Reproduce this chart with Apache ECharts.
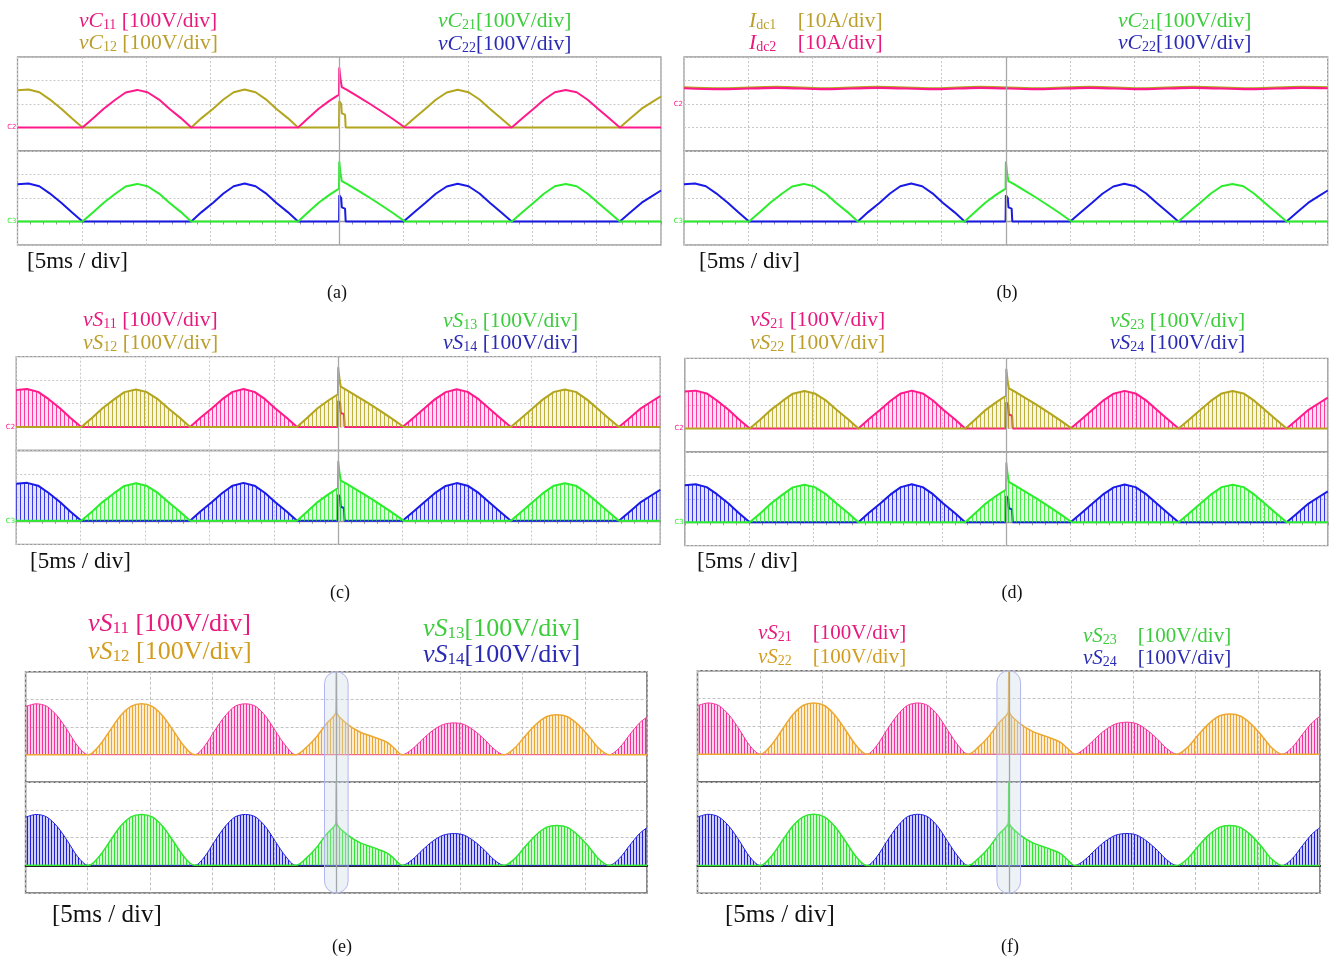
<!DOCTYPE html>
<html>
<head>
<meta charset="utf-8">
<title>Capacitor and switch voltages</title>
<script src="https://cdn.jsdelivr.net/npm/echarts@6.0.0/dist/echarts.min.js"></script>
<style>
  html, body { margin: 0; padding: 0; background: #fff; }
  #main { width: 1334px; height: 962px; }
</style>
</head>
<body>
<div id="main"></div>
<script>
// time axis: 10 div x 5 ms
var timeMin = 0, timeMax = 50, timeDiv = 5;
var faultTime = 25;
var faultWindow = [24.05, 25.95];

// experimental (scope) envelopes, [ms, V]; hump starting before t=0
var expA = [[0,158],[0.85,162],[1.7,150],[2.5,120],[3.4,80],[4.2,40],[5.05,0],[13.5,0],[14.3,40],[15.2,80],[16.0,119],[16.8,150],[17.65,162],[18.5,150],[19.3,120],[20.1,80],[21.0,40],[21.8,0],[24.98,0],[25.0,112],[25.15,100],[25.2,60],[25.45,55],[25.5,0],[30.0,0],[30.85,40],[31.7,80],[32.5,118],[33.35,149],[34.2,161],[35.05,150],[35.9,119],[36.7,80],[37.55,40],[38.4,0],[46.8,0],[47.65,40],[48.5,80],[49.3,108],[50,132]];
// experimental, hump in which the fault occurs
var expB = [[0,0],[5.05,0],[5.9,40],[6.7,80],[7.6,118],[8.4,149],[9.3,160],[10.1,150],[11.0,119],[11.8,80],[12.7,40],[13.5,0],[21.8,0],[22.6,40],[23.4,80],[24.2,112],[24.98,140],[25.0,255],[25.1,205],[25.2,172],[25.6,160],[26.5,130],[27.4,100],[28.3,68],[29.2,35],[30.1,0],[38.4,0],[39.25,40],[40.1,80],[40.9,118],[41.75,150],[42.6,160],[43.45,150],[44.3,118],[45.1,80],[45.95,40],[46.8,0],[50,0]];
// dc currents (A)
var idc1 = [[0,7.05],[3,6.65],[7.2,7.25],[11,6.65],[15,7.25],[19.5,6.65],[23,7.25],[27.5,6.65],[31.5,7.25],[35.5,6.65],[39.5,7.25],[44,6.65],[48,7.25],[50,7.05]];
var idc2 = [[0,6.7],[3,6.3],[7.2,6.9],[11,6.3],[15,6.9],[19.5,6.3],[23,6.9],[27.5,6.3],[31.5,6.9],[35.5,6.3],[39.5,6.9],[44,6.3],[48,6.9],[50,6.7]];
// simulation envelopes (V)
var simA = [[0,174],[0.85,184],[1.7,175],[2.55,140],[3.4,86],[4.2,31],[5.06,0],[13.6,0],[14.4,31],[15.2,86],[16.05,140],[16.85,175],[17.7,184],[18.5,175],[19.3,140],[20.1,86],[20.95,31],[21.75,0],[30.3,0],[31.1,20],[31.9,54],[32.75,87],[33.6,109],[34.5,115],[35.3,109],[36.1,87],[36.95,54],[37.7,20],[38.5,0],[46.95,0],[47.8,26],[48.6,72],[49.4,115],[50,136]];
var simB = [[0,0],[5.06,0],[5.9,31],[6.77,86],[7.62,140],[8.48,175],[9.33,184],[10.18,175],[11.04,140],[11.9,86],[12.75,31],[13.6,0],[21.75,0],[22.6,27],[23.4,64],[24.2,112],[24.97,154],[25.0,300],[25.03,154],[25.85,112],[26.9,82],[28.0,64],[29.07,45],[29.7,22],[30.3,0],[38.5,0],[39.35,24],[40.2,68],[41.05,109],[41.9,137],[42.75,144],[43.6,137],[44.45,109],[45.3,68],[46.1,24],[46.95,0],[50,0]];

var col = {
  mag: '#ff1a8c', oli: '#b3a51e', grn: '#2ced2c', blu: '#1a1ae6',
  sMag: '#f5329c', sOra: '#eca832', sGrn: '#30e630', sBlu: '#2020dc',
  tMag: '#e8197d', tOli: '#bb9e2c', tOra: '#d29c1e', tGrn: '#3ccc3c', tBlu: '#2a2ab4'
};

// vertical hatch used for the PWM pulse trains
function stripes(color, period, alpha, bg) {
  var c = document.createElement('canvas');
  c.width = period; c.height = 4;
  var ctx = c.getContext('2d');
  ctx.fillStyle = color;
  ctx.globalAlpha = bg;
  ctx.fillRect(0, 0, period, 4);
  ctx.globalAlpha = alpha;
  ctx.fillRect(0, 0, 1, 4);
  return { image: c, repeat: 'repeat' };
}

var grids = [], xAxes = [], yAxes = [], series = [];

// one half (top = 0, bottom = 1) of a panel
function half(box, pos, yr, traces, sim, marker) {
  var gi = grids.length;
  var h = box.h / 2;
  grids.push({
    left: box.x, top: box.y + pos * h, width: box.w, height: h,
    show: true, borderColor: sim ? '#666' : '#9a9a9a', borderWidth: sim ? 1.5 : 1.3,
    backgroundColor: 'transparent', outerBoundsMode: 'none', containLabel: false
  });
  xAxes.push({
    gridIndex: gi, type: 'value', min: timeMin, max: timeMax, interval: timeDiv,
    position: pos ? 'top' : 'bottom',
    axisLine: { show: pos === 1, lineStyle: { color: sim ? '#222' : '#999', width: sim ? 2 : 1.3 } },
    axisTick: { show: pos === 1 && !sim, inside: true, length: 3, lineStyle: { color: '#999' } },
    minorTick: { show: pos === 1 && !sim, splitNumber: 5, length: 3, lineStyle: { color: '#999' } },
    axisLabel: { show: false },
    splitLine: { show: true, lineStyle: { color: sim ? '#c2c2c2' : '#c8c8c8', type: sim ? [3, 2] : [2, 2], width: 1 } }
  });
  yAxes.push({
    gridIndex: gi, type: 'value', min: yr[0], max: yr[1], interval: yr[2],
    axisLine: { show: false }, axisTick: { show: false },
    axisLabel: {
      show: !!marker, margin: 1, fontSize: 7, fontFamily: 'DejaVu Sans',
      color: marker ? marker[1] : '#000',
      formatter: function (v) { return v === 0 && marker ? marker[0] : ''; }
    },
    splitLine: { show: true, lineStyle: { color: sim ? '#c2c2c2' : '#c8c8c8', type: sim ? [3, 2] : [2, 2], width: 1 } }
  });
  traces.forEach(function (tr, k) {
    var s = {
      type: 'line', xAxisIndex: gi, yAxisIndex: gi, data: tr.data,
      symbol: 'none', showSymbol: false, animation: false,
      smooth: tr.smooth || false,
      lineStyle: { color: tr.color, width: tr.width || 2 },
      itemStyle: { color: tr.color },
      z: 2 + k
    };
    if (tr.fill) s.areaStyle = { color: stripes(tr.color, tr.fill[0], tr.fill[1], tr.fill[2]), opacity: 1 };
    if (k === 0) {
      s.markLine = {
        silent: true, symbol: ['none', 'none'], label: { show: false },
        lineStyle: { color: sim ? '#8a8a8a' : '#a8a8a8', type: 'solid', width: 1.3 },
        data: [{ xAxis: faultTime }]
      };
    }
    series.push(s);
  });
  return gi;
}

var vR = [-100, 300, 100];
var sp = [4, 0.85, 0.12];  // scope PWM hatch
var ss = [3, 1, 0.22];     // simulation PWM hatch

// (a)
var bA = { x: 17.5, y: 57, w: 643.5, h: 188 };
half(bA, 0, vR, [{ data: expA, color: col.oli }, { data: expB, color: col.mag }], false, ['C2', col.mag]);
half(bA, 1, vR, [{ data: expA, color: col.blu }, { data: expB, color: col.grn }], false, ['C3', col.grn]);
// (b)
var bB = { x: 684, y: 57, w: 643.7, h: 188 };
half(bB, 0, [-20, 20, 10], [{ data: idc1, color: col.oli, smooth: 0.4, width: 2.2 }, { data: idc2, color: col.mag, smooth: 0.4, width: 2.2 }], false, ['C2', col.mag]);
half(bB, 1, vR, [{ data: expA, color: col.blu }, { data: expB, color: col.grn }], false, ['C3', col.grn]);
// (c)
var bC = { x: 16.2, y: 356.7, w: 644, h: 187.6 };
half(bC, 0, vR, [{ data: expA, color: col.mag, fill: sp }, { data: expB, color: col.oli, fill: sp }], false, ['C2', col.mag]);
half(bC, 1, vR, [{ data: expA, color: col.blu, fill: sp }, { data: expB, color: col.grn, fill: sp }], false, ['C3', col.grn]);
// (d)
var bD = { x: 684.8, y: 358.3, w: 643, h: 187.4 };
half(bD, 0, vR, [{ data: expA, color: col.mag, fill: sp }, { data: expB, color: col.oli, fill: sp }], false, ['C2', col.mag]);
half(bD, 1, vR, [{ data: expA, color: col.blu, fill: sp }, { data: expB, color: col.grn, fill: sp }], false, ['C3', col.grn]);
// (e)
var bE = { x: 25.6, y: 671.7, w: 621.4, h: 221.3 };
var eTop = half(bE, 0, vR, [{ data: simA, color: col.sMag, fill: ss, width: 1, smooth: 0.3 }, { data: simB, color: col.sOra, fill: ss, width: 1.5, smooth: 0.3 }], true);
var eBot = half(bE, 1, vR, [{ data: simA, color: col.sBlu, fill: ss, width: 1, smooth: 0.3 }, { data: simB, color: col.sGrn, fill: ss, width: 1.5, smooth: 0.3 }], true);
// (f)
var bF = { x: 697.5, y: 670.7, w: 622.5, h: 222.6 };
var fTop = half(bF, 0, vR, [{ data: simA, color: col.sMag, fill: ss, width: 1, smooth: 0.3 }, { data: simB, color: col.sOra, fill: ss, width: 1.5, smooth: 0.3 }], true);
var fBot = half(bF, 1, vR, [{ data: simA, color: col.sBlu, fill: ss, width: 1, smooth: 0.3 }, { data: simB, color: col.sGrn, fill: ss, width: 1.5, smooth: 0.3 }], true);

var chart = echarts.init(document.getElementById('main'));
chart.setOption({
  animation: false,
  backgroundColor: '#fff',
  grid: grids, xAxis: xAxes, yAxis: yAxes, series: series
});

// texts
var serif = 'Liberation Serif';
function sigLabel(x, y, sym, sub, unit, color, size) {
  return {
    type: 'text', x: x, y: y, z: 50,
    style: {
      text: '{i|' + sym + '}{s|' + sub + '}{n|' + unit + '}',
      fill: color, verticalAlign: 'middle', align: 'left',
      rich: {
        i: { fontFamily: serif, fontStyle: 'italic', fontSize: size, fill: color, lineHeight: size * 1.15, verticalAlign: 'bottom' },
        s: { fontFamily: serif, fontSize: Math.round(size * 0.66), fill: color, lineHeight: size * 0.7, verticalAlign: 'bottom' },
        n: { fontFamily: serif, fontSize: size, fill: color, lineHeight: size * 1.15, verticalAlign: 'bottom' }
      }
    }
  };
}
function plain(x, y, txt, size, align) {
  return {
    type: 'text', x: x, y: y, z: 50,
    style: { text: txt, fill: '#111', font: size + 'px "' + serif + '"', align: align || 'left', verticalAlign: 'middle' }
  };
}

var g = [
  sigLabel(79, 20, 'vC', '11', ' [100V/div]', col.tMag, 21.5),
  sigLabel(79, 42, 'vC', '12', ' [100V/div]', col.tOli, 21.5),
  sigLabel(438, 20, 'vC', '21', '[100V/div]', col.tGrn, 21.5),
  sigLabel(438, 43, 'vC', '22', '[100V/div]', col.tBlu, 21.5),
  sigLabel(749, 20, 'I', 'dc1', '    [10A/div]', col.tOli, 21.5),
  sigLabel(749, 42, 'I', 'dc2', '    [10A/div]', col.tMag, 21.5),
  sigLabel(1118, 20, 'vC', '21', '[100V/div]', col.tGrn, 21.5),
  sigLabel(1118, 42, 'vC', '22', '[100V/div]', col.tBlu, 21.5),
  sigLabel(83, 319, 'vS', '11', ' [100V/div]', col.tMag, 21.5),
  sigLabel(83, 342, 'vS', '12', ' [100V/div]', col.tOli, 21.5),
  sigLabel(443, 320, 'vS', '13', ' [100V/div]', col.tGrn, 21.5),
  sigLabel(443, 342, 'vS', '14', ' [100V/div]', col.tBlu, 21.5),
  sigLabel(750, 319, 'vS', '21', ' [100V/div]', col.tMag, 21.5),
  sigLabel(750, 342, 'vS', '22', ' [100V/div]', col.tOli, 21.5),
  sigLabel(1110, 320, 'vS', '23', ' [100V/div]', col.tGrn, 21.5),
  sigLabel(1110, 342, 'vS', '24', ' [100V/div]', col.tBlu, 21.5),
  sigLabel(88, 622, 'vS', '11', ' [100V/div]', col.tMag, 26),
  sigLabel(88, 650, 'vS', '12', ' [100V/div]', col.tOra, 26),
  sigLabel(423, 627, 'vS', '13', '[100V/div]', col.tGrn, 26),
  sigLabel(423, 653, 'vS', '14', '[100V/div]', col.tBlu, 26),
  sigLabel(758, 632, 'vS', '21', '    [100V/div]', col.tMag, 21),
  sigLabel(758, 656, 'vS', '22', '    [100V/div]', col.tOra, 21),
  sigLabel(1083, 635, 'vS', '23', '    [100V/div]', col.tGrn, 21),
  sigLabel(1083, 657, 'vS', '24', '    [100V/div]', col.tBlu, 21),
  plain(27, 262, '[5ms / div]', 23), plain(699, 262, '[5ms / div]', 23),
  plain(30, 562, '[5ms / div]', 23), plain(697, 562, '[5ms / div]', 23),
  plain(52, 915, '[5ms / div]', 25), plain(725, 915, '[5ms / div]', 25),
  plain(337, 293, '(a)', 18, 'center'), plain(1007, 293, '(b)', 18, 'center'),
  plain(340, 593, '(c)', 18, 'center'), plain(1012, 593, '(d)', 18, 'center'),
  plain(342, 947, '(e)', 18, 'center'), plain(1010, 947, '(f)', 18, 'center')
];

// fault highlight spanning both halves of (e) and (f)
[[eTop, eBot], [fTop, fBot]].forEach(function (p) {
  var tl = chart.convertToPixel({ gridIndex: p[0] }, [faultWindow[0], vR[1]]);
  var br = chart.convertToPixel({ gridIndex: p[1] }, [faultWindow[1], vR[0]]);
  g.push({
    type: 'rect', z: 40, silent: true,
    shape: { x: tl[0], y: tl[1], width: br[0] - tl[0], height: br[1] - tl[1], r: 12 },
    style: { fill: 'rgba(200,218,226,0.35)', stroke: '#b2b6ee', lineWidth: 1 }
  });
});

chart.setOption({ graphic: g });
</script>
</body>
</html>
